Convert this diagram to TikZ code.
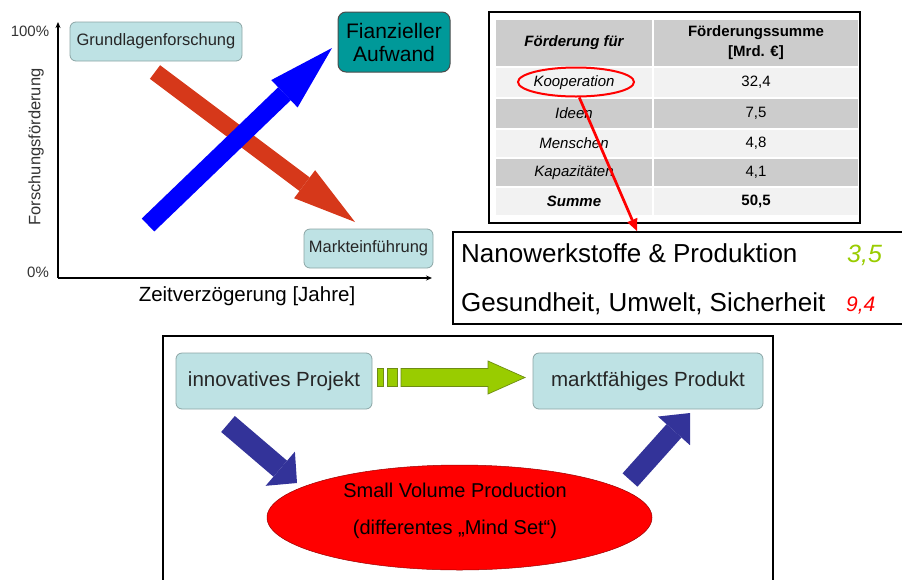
\documentclass[tikz,border=0pt]{standalone}
\usepackage{fontspec}
\setmainfont{Liberation Sans}
\usepackage{xcolor}
\usetikzlibrary{arrows.meta,shapes.geometric}
\definecolor{boxfill}{RGB}{190,226,228}
\definecolor{boxline}{RGB}{140,165,165}
\definecolor{tealfill}{RGB}{0,153,153}
\definecolor{arrred}{RGB}{214,56,26}
\definecolor{navy}{RGB}{51,51,153}
\definecolor{lime}{RGB}{153,204,0}
\definecolor{limeline}{RGB}{110,140,20}
\definecolor{rowdark}{RGB}{204,204,204}
\definecolor{rowlight}{RGB}{242,242,242}
\tikzset{
  bx/.style={draw=boxline,fill=boxfill,rounded corners=6pt,line width=0.8pt,inner sep=0pt,text=black!85},
  tl/.style={draw=black!70,fill=tealfill,rounded corners=8pt,line width=1pt,inner sep=0pt,align=center},
  ax/.style={line width=1.2pt,-{Stealth[length=6pt,width=5pt]}},
  fat/.style n args={3}{line width=#1,-{Triangle[length=#2,width=#3,line width=0pt]}},
  cell/.style={inner sep=0pt,align=center},
  dk/.style={cell,fill=rowdark},
  lt/.style={cell,fill=rowlight},
  ca/.style={minimum width=156pt},
  cb/.style={minimum width=204pt},
  ring/.style={draw=red,line width=2pt,ellipse,inner sep=0pt},
  ptr/.style={draw=red,fill=red,line width=2.7pt,-{Triangle[length=12pt,width=11pt,line width=0pt]}},
  txt/.style={inner sep=0pt},
  gbar/.style={fill=lime,draw=limeline,line width=0.7pt}
}
\newcommand{\fs}[1]{\fontsize{#1}{1.2\dimexpr#1pt\relax}\selectfont}

\begin{document}
\begin{tikzpicture}[x=1pt,y=-1pt]
\useasboundingbox (0,0) rectangle (902,579);

\coordinate (org) at (58,278); \coordinate (ytop) at (58,22); \coordinate (xend) at (432,278);
\draw[ax] (org) -- (ytop);
\draw[ax] (org) -- (xend);
\node[txt,font=\fs{15},text=black!80] (p100) at (30,31) {100\%};
\node[txt,font=\fs{15},text=black!80] (p0) at (38,272) {0\%};
\node[txt,rotate=90,font=\fs{16.5},text=black!80] (ylab) at (36,147) {Forschungsförderung};
\node[txt,font=\fs{20.5}] (xlab) at (247,296) {Zeitverzögerung [Jahre]};
\node[bx,minimum width=172pt,minimum height=39pt,font=\fs{16.5}] (grund) at (156,41.5) {Grundlagenforschung};
\node[bx,minimum width=129pt,minimum height=39pt,font=\fs{16.5}] (markt) at (368.5,248.5) {Markteinführung};
\node[tl,minimum width=112pt,minimum height=60pt,font=\fontsize{21}{23}\selectfont] (aufw) at (394,42) {Fianzieller\\Aufwand};
\coordinate (rt) at (155,72); \coordinate (rh) at (355,222);
\coordinate (bt) at (148,225); \coordinate (bh) at (332,48);
\draw[fat={17pt}{63pt}{35pt},arrred] (rt) -- (rh);
\draw[fat={18pt}{66pt}{38pt},blue] (bt) -- (bh);

\draw[line width=2pt] (489,12) rectangle (860,223);
\node[dk,ca,minimum height=46pt,font=\fontsize{15}{19}\selectfont\bfseries\itshape] (h1) at (574,43) {Förderung für};
\node[dk,cb,minimum height=46pt,font=\fontsize{15}{20}\selectfont\bfseries] (h2) at (756,43) {Förderungssumme\\{}[Mrd. €]};
\node[lt,ca,minimum height=29pt,font=\fs{15}\itshape] (k1) at (574,82.5) {Kooperation};
\node[lt,cb,minimum height=29pt,font=\fs{15}] (v1) at (756,82.5) {32,4};
\node[dk,ca,minimum height=29pt,font=\fs{15}\itshape] (k2) at (574,113.5) {Ideen};
\node[dk,cb,minimum height=29pt,font=\fs{15}] (v2) at (756,113.5) {7,5};
\node[lt,ca,minimum height=27pt,font=\fs{15}\itshape] (k3) at (574,143.5) {Menschen};
\node[lt,cb,minimum height=27pt,font=\fs{15}] (v3) at (756,143.5) {4,8};
\node[dk,ca,minimum height=27pt,font=\fs{15}\itshape] (k4) at (574,172.5) {Kapazitäten};
\node[dk,cb,minimum height=27pt,font=\fs{15}] (v4) at (756,172.5) {4,1};
\node[lt,ca,minimum height=27pt,font=\fs{15}\bfseries\itshape] (k5) at (574,201.5) {Summe};
\node[lt,cb,minimum height=27pt,font=\fs{15}\bfseries] (v5) at (756,201.5) {50,5};

\node[draw,line width=2.2pt,minimum width=460pt,minimum height=92pt,anchor=north west,inner sep=0pt] (nano) at (452,231) {};
\node[txt,anchor=base west,font=\fs{26}] (nw) at (461,262) {Nanowerkstoffe \& Produktion};
\node[txt,anchor=base west,font=\fs{26}] (gus) at (461,311.5) {Gesundheit, Umwelt, Sicherheit};
\node[txt,anchor=base west,font=\fs{25}\itshape,text=lime] (nwv) at (847,262) {3,5};
\node[txt,anchor=base west,font=\fs{21}\itshape,text=red] (gusv) at (846,311.5) {9,4};
\node[ring,minimum width=116pt,minimum height=29pt] (koop) at (576,82) {};
\coordinate (nanotop) at (637,231);
\draw[ptr] (koop.-78) -- (nanotop);

\draw[line width=1.8pt] (163,585) -- (163,336) -- (773,336) -- (773,585);
\node[bx,minimum width=196pt,minimum height=56pt,font=\fs{20.5}] (proj) at (274,381) {innovatives Projekt};
\node[bx,minimum width=230pt,minimum height=56pt,font=\fs{20.5}] (prod) at (648,381) {marktfähiges Produkt};
\node[draw=red!60!black,line width=0.5pt,fill=red,ellipse,minimum width=385pt,minimum height=105pt,inner sep=0pt] (svp) at (459.5,517.5) {};
\node[txt,align=center,font=\fontsize{20}{37}\selectfont] (svptxt) at (455,511) {Small Volume Production\\(differentes „Mind Set“)};
\draw[gbar] (377.5,368.5) rectangle (383.5,386.5);
\draw[gbar] (387,368.5) rectangle (397,386.5);
\draw[gbar] (401,368.5) -- (488,368.5) -- (488,361) -- (525,377.5) -- (488,394) -- (488,386.5) -- (401,386.5) -- cycle;
\coordinate (n1t) at (228,424); \coordinate (n1h) at (297,483);
\coordinate (n2t) at (630,480); \coordinate (n2h) at (690,413);
\draw[fat={21pt}{22pt}{45pt},navy] (n1t) -- (n1h);
\draw[fat={20pt}{24pt}{43pt},navy] (n2t) -- (n2h);
\end{tikzpicture}
\end{document}
